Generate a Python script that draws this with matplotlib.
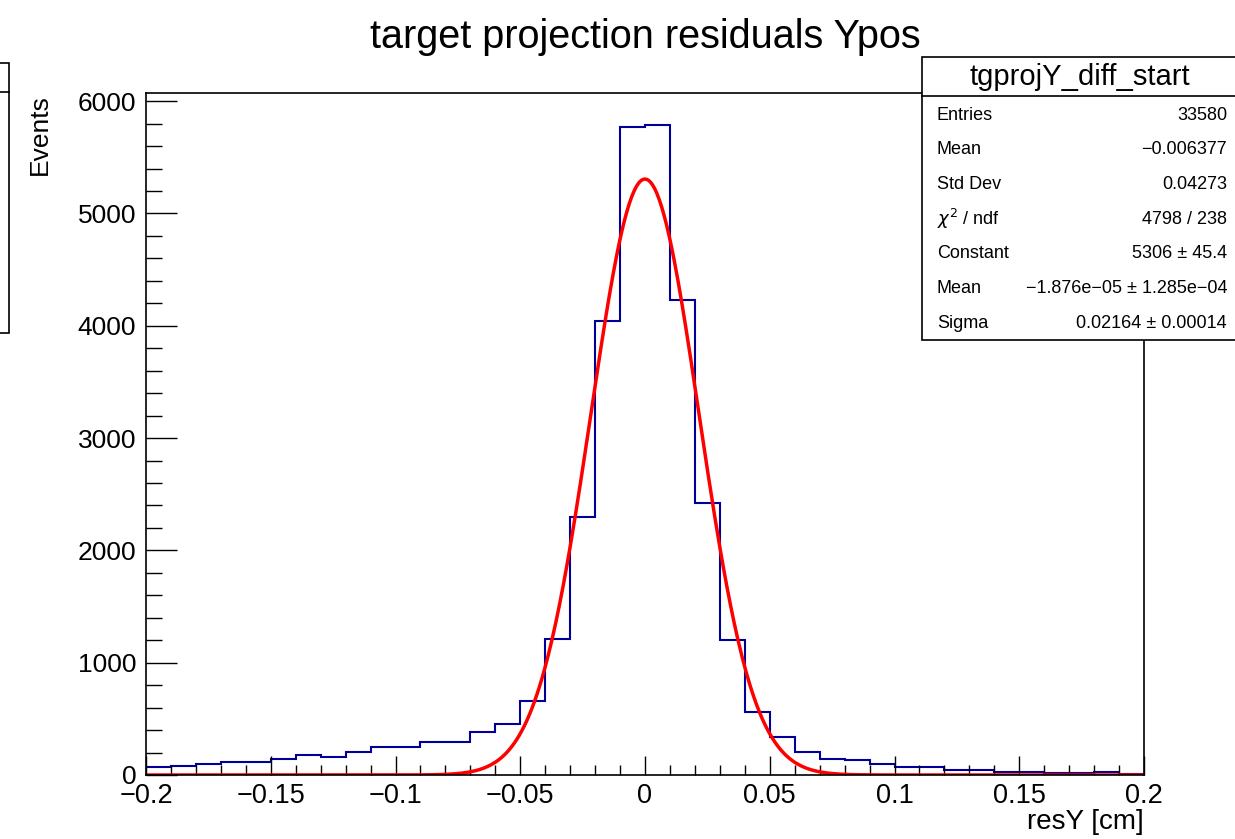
import numpy as np
import matplotlib.pyplot as plt
from matplotlib.patches import Rectangle
from matplotlib.ticker import MultipleLocator

plt.rcParams['font.family'] = ['Liberation Sans', 'DejaVu Sans']

# histogram: 40 bins of 0.01 from -0.2 to 0.2
bin_lo, bin_hi, nbins = -0.2, 0.2, 40
counts = [70, 83, 101, 119, 119, 143, 175, 160, 208, 250,
          250, 294, 294, 383, 457, 662, 1210, 2300, 4046, 5766,
          5784, 4225, 2424, 1203, 559, 336, 205, 145, 131, 101,
          71, 71, 42, 42, 27, 27, 20, 20, 27, 10]

# gaussian fit parameters (from the stats box)
fit_const = 5306
fit_mean = -1.876e-05
fit_sigma = 0.02164

stats_title = "tgprojY_diff_start"
stats_names = ["Entries", "Mean", "Std Dev", r"$\chi^2$ / ndf", "Constant", "Mean", "Sigma"]
stats_values = ["33580", "\u22120.006377", "0.04273", "4798 / 238", "5306 \u00b1 45.4",
                "\u22121.876e\u221205 \u00b1 1.285e\u221204", "0.02164 \u00b1 0.00014"]

W, H = 1235, 839
fig = plt.figure(figsize=(W / 100, H / 100), dpi=100)
ax = fig.add_axes([146 / W, 1 - 775 / H, (1144 - 146) / W, (775 - 92.7) / H])

edges = np.linspace(bin_lo, bin_hi, nbins + 1)
ax.stairs(counts, edges, color="#000099", linewidth=1.5, baseline=0)

xs = np.linspace(bin_lo, bin_hi, 800)
ax.plot(xs, fit_const * np.exp(-0.5 * ((xs - fit_mean) / fit_sigma) ** 2),
        color="red", linewidth=2.5)

ax.set_xlim(bin_lo, bin_hi)
ax.set_ylim(0, 6075)
ax.xaxis.set_major_locator(MultipleLocator(0.05))
ax.xaxis.set_minor_locator(MultipleLocator(0.01))
ax.yaxis.set_major_locator(MultipleLocator(1000))
ax.yaxis.set_minor_locator(MultipleLocator(200))
ax.tick_params(axis="x", which="major", direction="in", length=14, width=1, labelsize=19.5, pad=6)
ax.tick_params(axis="x", which="minor", direction="in", length=7, width=1)
ax.tick_params(axis="y", which="major", direction="in", length=22, width=1, labelsize=19, pad=7)
ax.tick_params(axis="y", which="minor", direction="in", length=11.5, width=1)
ax.xaxis.set_major_formatter(plt.FuncFormatter(lambda v, p: ("%g" % round(v, 3)).replace("-", "\u2212")))
for s in ax.spines.values():
    s.set_linewidth(1.2)

fig.text(645 / W, 1 - 37 / H, "target projection residuals Ypos", ha="center", va="center", fontsize=28.5)
fig.text(1144 / W, 1 - 822 / H, "resY [cm]", ha="right", va="center", fontsize=20)
fig.text(40 / W, 1 - 94 / H, "Events", ha="center", va="top", rotation=90, fontsize=19)

# stats box (clipped at the right edge)
def px(x, y):
    return x / W, 1 - y / H

box_l, box_t, box_b = 922, 57, 340
fig.patches.append(Rectangle(px(box_l, box_b), (W + 5 - box_l) / W, (box_b - box_t) / H,
                             transform=fig.transFigure, facecolor="white", edgecolor="black",
                             linewidth=1.2, zorder=5))
fig.lines.append(plt.Line2D([box_l / W, 1], [1 - 96 / H] * 2, transform=fig.transFigure,
                            color="black", linewidth=1.2, zorder=6))
fig.text(*px(1080, 77), stats_title, ha="center", va="center", fontsize=21, zorder=7)
for i, (n, v) in enumerate(zip(stats_names, stats_values)):
    y = 115 + i * 34.7
    fig.text(*px(937, y), n, ha="left", va="center", fontsize=13, zorder=7)
    fig.text(*px(1227, y), v, ha="right", va="center", fontsize=13, zorder=7)

# partially visible box on the left edge
fig.patches.append(Rectangle(px(-5, 333), 14 / W, (333 - 63) / H, transform=fig.transFigure,
                             facecolor="none", edgecolor="black", linewidth=1.2))
fig.lines.append(plt.Line2D([0, 9 / W], [1 - 92 / H] * 2, transform=fig.transFigure,
                            color="black", linewidth=1.2))

fig.savefig("out.png", dpi=100)
